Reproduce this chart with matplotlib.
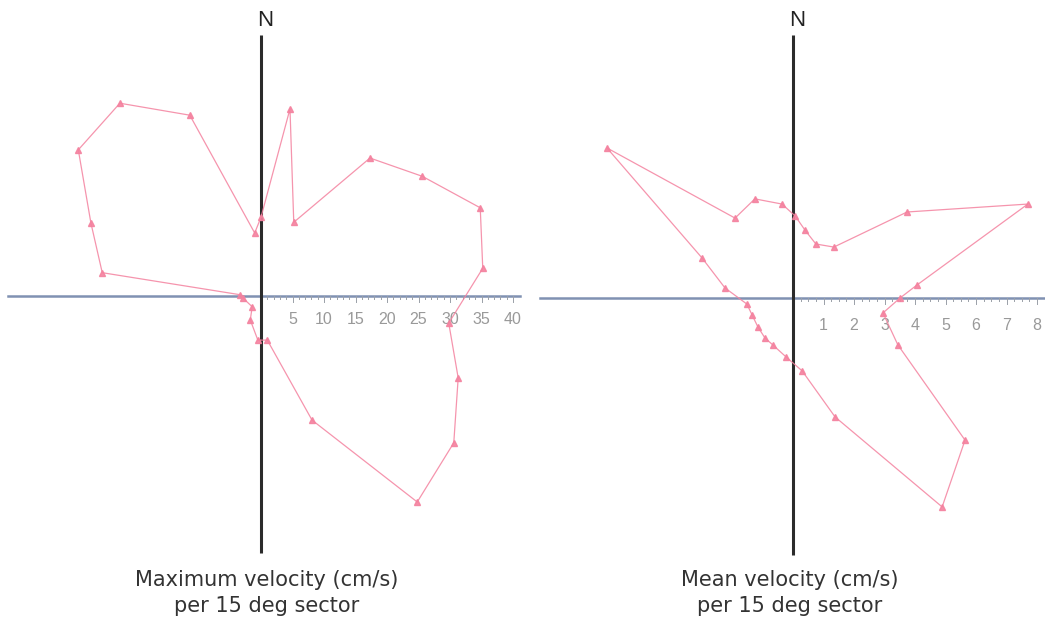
import matplotlib.pyplot as plt
import numpy as np

# east / north components (cm/s) of each sector
max_east = [0.0, 4.6, 5.2, 17.3, 25.6, 34.8, 35.2, 29.8, 31.3, 30.6, 24.8, 8.1,
            1.0, -0.5, -1.7, -1.4, -2.9, -3.3, -25.2, -27.0, -29.0, -22.4, -11.3, -1.0]
max_north = [12.5, 29.7, 11.7, 21.9, 19.0, 14.0, 4.4, -4.3, -13.0, -23.3, -32.7, -19.7,
             -7.0, -7.0, -3.8, -1.7, -0.3, 0.2, 3.7, 11.6, 23.2, 30.6, 28.7, 10.0]

mean_east = [0.07, 0.39, 0.75, 1.34, 3.74, 7.70, 4.07, 3.51, 2.95, 3.44, 5.64, 4.89, 1.38,
             0.30, -0.23, -0.66, -0.92, -1.15, -1.34, -1.51, -2.23, -2.98, -6.10, -1.90,
             -1.25, -0.36]
mean_north = [2.69, 2.23, 1.77, 1.67, 2.82, 3.08, 0.43, 0.0, -0.49, -1.54, -4.66, -6.85, -3.90,
              -2.39, -1.93, -1.54, -1.31, -0.95, -0.56, -0.20, 0.33, 1.31, 4.92, 2.62,
              3.25, 3.08]

max_ticks = [5, 10, 15, 20, 25, 30, 35, 40]
mean_ticks = [1, 2, 3, 4, 5, 6, 7, 8]

W, H = 1045, 623
fig = plt.figure(figsize=(W / 100, H / 100), dpi=100)
fig.patch.set_facecolor('white')

pink = '#f4829f'
axis_blue = '#8091b2'


def rose(px_box, origin, scale, east, north, ticks, minor, hx, vy, tick_off, caption, cap_x):
    # px_box = (left, top, right, bottom) in pixels; origin in pixels; scale px per unit
    l, t, r, b = px_box
    ax = fig.add_axes([l / W, 1 - b / H, (r - l) / W, (b - t) / H])
    ox, oy = origin
    ax.set_xlim((l - ox) / scale, (r - ox) / scale)
    ax.set_ylim((oy - b) / scale, (oy - t) / scale)
    ax.axis('off')

    # north line and east axis
    ax.plot([0, 0], [(oy - vy[0]) / scale, (oy - vy[1]) / scale], color='#2b2b2b', lw=2.2,
            solid_capstyle='butt', zorder=2)
    ax.plot([(hx[0] - ox) / scale, (hx[1] - ox) / scale], [0, 0], color=axis_blue, lw=1.8,
            zorder=1)
    ticklen = 3 / scale
    for v in np.arange(minor, ticks[-1] + minor / 2, minor):
        big = any(abs(v - t_) < 1e-6 for t_ in ticks)
        ax.plot([v, v], [0, -(ticklen * (2 if big else 1))], color='#9aa0a8', lw=0.7, zorder=1)
    for t_ in ticks:
        ax.text(t_, -tick_off / scale, str(t_), ha='center', va='center', color='#999999',
                fontsize=11.5, family='Liberation Sans')

    xs = list(east) + [east[0]]
    ys = list(north) + [north[0]]
    ax.plot(xs, ys, color=pink, lw=0.9, alpha=0.85, zorder=3)
    ax.plot(east, north, ls='none', marker='^', ms=4, color=pink, alpha=0.9, zorder=4)

    fig.text((ox + 4) / W, 1 - 20 / H, 'N', ha='center', va='center', fontsize=16,
             color='#222222', family='Liberation Sans')
    fig.text(cap_x / W, 1 - 593 / H, caption, ha='center', va='center', fontsize=15,
             color='#333333', family='DejaVu Sans', linespacing=1.35)
    return ax


rose((0, 30, 530, 560), (261, 296), 6.3, max_east, max_north, max_ticks, 1,
     (8, 520), (35, 553), 24, 'Maximum velocity (cm/s)\nper 15 deg sector', 267)
rose((535, 30, 1045, 560), (793, 298), 30.5, mean_east, mean_north, mean_ticks, 0.25,
     (540, 1045), (35, 555), 28, 'Mean velocity (cm/s)\nper 15 deg sector', 790)

fig.savefig('out.png', dpi=100, facecolor='white')
